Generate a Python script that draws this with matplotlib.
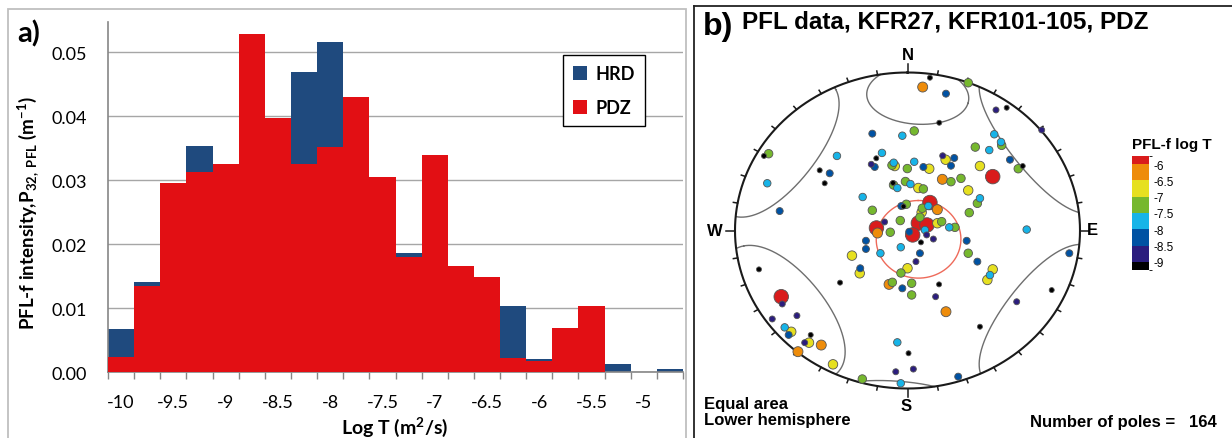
import numpy as np
import matplotlib
matplotlib.use("Agg")
import matplotlib.pyplot as plt
import matplotlib as mpl
from matplotlib.patches import Patch, Rectangle
from matplotlib.lines import Line2D
from matplotlib.colors import ListedColormap, BoundaryNorm

plt.rcParams['font.family'] = ['Lato', 'DejaVu Sans']
plt.rcParams['axes.unicode_minus'] = False
plt.rcParams['mathtext.fontset'] = 'custom'
plt.rcParams['mathtext.rm'] = 'Lato'
plt.rcParams['mathtext.bf'] = 'Lato:bold'
plt.rcParams['mathtext.it'] = 'Lato:italic'

# ---------------- panel a data ----------------
bin_centers = [-10.0, -9.75, -9.5, -9.25, -9.0, -8.75, -8.5, -8.25, -8.0, -7.75, -7.5,
               -7.25, -7.0, -6.75, -6.5, -6.25, -6.0, -5.75, -5.5, -5.25, -5.0, -4.75]
hrd = [0.0067, 0.0140, 0.0270, 0.0353, 0.0300, 0.0450, 0.0360, 0.0469, 0.0515, 0.0380, 0.0270,
       0.0186, 0.0280, 0.0120, 0.0110, 0.0103, 0.0020, 0.0040, 0.0060, 0.0012, 0.0, 0.0005]
pdz = [0.0024, 0.0135, 0.0295, 0.0312, 0.0325, 0.0528, 0.0397, 0.0325, 0.0352, 0.0430, 0.0304,
       0.0179, 0.0339, 0.0165, 0.0148, 0.0022, 0.0017, 0.0068, 0.0103, 0.0, 0.0, 0.0]
x_label_values = [-10.0, -9.5, -9.0, -8.5, -8.0, -7.5, -7.0, -6.5, -6.0, -5.5, -5.0]
x_tick_labels = ['-10', '-9.5', '-9', '-8.5', '-8', '-7.5', '-7', '-6.5', '-6', '-5.5', '-5']
y_tick_values = [0.0, 0.01, 0.02, 0.03, 0.04, 0.05]
y_tick_labels = ['0.00', '0.01', '0.02', '0.03', '0.04', '0.05']
bin_width = 0.25

# ---------------- panel b data (equal-area projected pole positions, unit radius) ----------------
pole_east = [-0.805, -0.832, -0.813, -0.741, -0.409, -0.509, -0.451, -0.480, -0.204, -0.030,
             -0.148, -0.181, -0.210, -0.190, -0.074, -0.080, -0.090, -0.001, -0.081, -0.084,
             -0.059, -0.260, -0.204, -0.036, -0.007, -0.180, -0.174, -0.133, -0.042, -0.100,
             0.088, 0.130, 0.223, 0.352, 0.513, 0.575, 0.778, 0.184, 0.039, 0.503,
             0.393, 0.474, 0.542, 0.546, 0.594, 0.642, 0.668, 0.494, 0.420, 0.204,
             0.221, 0.271, 0.252, 0.039, 0.092, 0.126, 0.202, 0.252, 0.310, 0.352,
             -0.012, 0.017, 0.063, 0.092, 0.420, 0.405, 0.358, 0.691, 0.130, 0.121,
             0.173, 0.086, 0.082, 0.072, -0.023, 0.063, 0.113, 0.030, 0.010, 0.101,
             0.173, 0.198, 0.111, 0.150, 0.078, 0.242, 0.275, -0.241, -0.241, -0.157,
             -0.039, 0.072, 0.049, 0.000, -0.038, -0.861, -0.732, -0.726, -0.784, -0.641,
             -0.712, -0.674, -0.689, -0.561, -0.596, -0.571, -0.500, -0.635, -0.432, -0.262,
             -0.039, -0.068, -0.059, 0.006, -0.391, -0.322, -0.274, -0.277, -0.107, -0.088,
             -0.030, 0.024, 0.024, 0.343, 0.352, 0.405, 0.494, 0.478, 0.463, 0.183,
             0.163, 0.223, 0.420, 0.034, 0.294, 0.836, 0.633, 0.938]
pole_north = [0.486, 0.472, 0.299, 0.123, 0.472, 0.381, 0.362, 0.299, 0.613, 0.600,
              0.491, 0.457, 0.419, 0.402, 0.408, 0.429, 0.413, 0.392, 0.288, 0.301,
              0.269, 0.212, 0.128, 0.155, 0.166, 0.016, -0.016, 0.054, 0.063, -0.011,
              0.908, 0.967, 0.866, 0.935, 0.763, 0.777, 0.636, 0.682, 0.630, 0.609,
              0.528, 0.509, 0.560, 0.539, 0.448, 0.391, 0.408, 0.341, 0.408, 0.473,
              0.448, 0.459, 0.410, 0.435, 0.402, 0.391, 0.324, 0.309, 0.330, 0.254,
              0.310, 0.294, 0.269, 0.263, 0.204, 0.172, 0.113, 0.006, 0.177, 0.155,
              0.132, 0.141, 0.115, 0.084, 0.152, 0.047, 0.035, -0.028, -0.008, 0.003,
              0.046, 0.056, -0.028, -0.054, -0.075, 0.020, 0.020, -0.065, -0.117, -0.144,
              -0.106, -0.144, -0.197, -0.239, -0.269, -0.246, -0.419, -0.465, -0.560, -0.539,
              -0.613, -0.641, -0.661, -0.661, -0.710, -0.710, -0.725, -0.767, -0.847, -0.940,
              -0.967, -0.894, -0.708, -0.777, -0.330, -0.159, -0.239, -0.271, -0.341, -0.328,
              -0.366, -0.334, -0.408, -0.065, -0.144, -0.197, -0.246, -0.282, -0.313, -0.341,
              -0.419, -0.514, -0.609, -0.877, -0.925, -0.377, -0.451, -0.144]
pole_logT = [-7.25, -9.1, -7.75, -8.25, -7.75, -9.1, -8.25, -9.1, -8.25, -7.75,
             -7.75, -9.1, -8.75, -8.25, -6.75, -7.75, -7.25, -7.25, -7.25, -9.1,
             -7.75, -7.75, -7.25, -8.25, -7.25, -5.9, -6.25, -8.75, -7.25, -7.25,
             -6.25, -9.1, -8.25, -7.25, -8.75, -9.1, -8.75, -9.1, -7.25, -7.75,
             -7.25, -7.75, -7.75, -7.25, -8.25, -7.25, -9.1, -5.9, -6.75, -8.75,
             -6.75, -8.25, -8.25, -7.75, -8.25, -6.75, -6.25, -7.25, -7.25, -6.75,
             -7.25, -7.75, -6.75, -7.25, -7.75, -7.25, -7.25, -7.75, -5.9, -7.75,
             -6.25, -7.25, -6.75, -7.25, -9.1, -5.9, -5.9, -5.9, -8.25, -7.75,
             -6.75, -7.25, -8.75, -8.75, -9.1, -7.75, -7.25, -8.25, -8.25, -7.75,
             -7.75, -8.25, -8.75, -6.75, -7.25, -9.1, -5.9, -8.75, -8.75, -8.75,
             -7.75, -6.75, -8.25, -9.1, -8.75, -6.75, -6.25, -6.25, -6.75, -7.25,
             -7.75, -8.75, -7.75, -9.1, -9.1, -6.75, -8.25, -6.75, -6.25, -7.25,
             -8.25, -7.25, -7.25, -8.25, -7.25, -8.25, -6.75, -7.75, -6.75, -9.1,
             -8.75, -6.25, -9.1, -8.75, -8.25, -9.1, -8.75, -8.25]
n_poles = 164

# small circles (cones): trend, plunge, half-angle (degrees)
cone_trend = [4, 305, 234]
cone_plunge = [14, 2, 6]
cone_half = [19, 30, 30]
red_cone = (131, 83, 20)

cbar_bounds = [-9.25, -9.0, -8.5, -8.0, -7.5, -7.0, -6.5, -6.0, -5.75]
cbar_colors = ['#000000', '#2b1d7e', '#0052a3', '#17b4e8', '#76b82e', '#e6e020', '#ee8c0a', '#d91c1c']
cbar_ticks = [-9.0, -8.5, -8.0, -7.5, -7.0, -6.5, -6.0]
cbar_ticklabels = ['-9', '-8.5', '-8', '-7.5', '-7', '-6.5', '-6']

W, H = 1232, 439
fig = plt.figure(figsize=(W / 100, H / 100), dpi=100)


def px(x, y):
    return x / W, 1 - y / H


def pxbox(x0, y0, x1, y1):
    return [x0 / W, 1 - y1 / H, (x1 - x0) / W, (y1 - y0) / H]


# ---------------- panel a ----------------
ax = fig.add_axes(pxbox(108, 23, 683, 373))
ax.bar(bin_centers, hrd, width=bin_width, color='#1f4a7e', edgecolor='none', zorder=2)
ax.bar(bin_centers, pdz, width=bin_width, color='#e20f14', edgecolor='none', zorder=3)
ax.set_xlim(bin_centers[0] - bin_width / 2, bin_centers[-1] + bin_width / 2)
ax.set_ylim(0, 0.0547)
edges = [c - bin_width / 2 for c in bin_centers] + [bin_centers[-1] + bin_width / 2]
ax.set_xticks(edges)
ax.set_xticklabels([''] * len(edges))
ax.set_xticks(x_label_values, minor=True)
ax.set_xticklabels(x_tick_labels, minor=True)
ax.tick_params(axis='x', which='major', length=5, width=1, color='#868686', direction='out')
ax.tick_params(axis='x', which='minor', length=0, pad=16, labelsize=13)
ax.set_yticks(y_tick_values)
ax.set_yticklabels(y_tick_labels)
ax.tick_params(axis='y', length=0, pad=15, labelsize=13)
ax.yaxis.grid(True, color='#a6a6a6', lw=1, zorder=0)
ax.set_axisbelow(True)
for s in ['top', 'right']:
    ax.spines[s].set_visible(False)
for s in ['left', 'bottom']:
    ax.spines[s].set_color('#868686')
    ax.spines[s].set_linewidth(1.2)

leg = ax.legend(handles=[Patch(facecolor='#1f4a7e', label='HRD'), Patch(facecolor='#e20f14', label='PDZ')],
                loc='upper left', bbox_to_anchor=((563 - 108) / 575, (373 - 56) / 350),
                frameon=True, fancybox=False, edgecolor='#000000', framealpha=1,
                prop={'weight': 'bold', 'size': 13}, handlelength=0.8, handleheight=0.8,
                handletextpad=0.45, labelspacing=0.95, borderpad=0.55, borderaxespad=0)
leg.get_frame().set_linewidth(1.0)

fig.text(*px(28, 213), 'PFL-f intensity,P$_{\\mathbf{32,\\ PFL}}$ (m$^{\\mathbf{-1}}$)', rotation=90,
         ha='center', va='center', fontsize=13.5, fontweight='bold')
fig.text(*px(395, 427), 'Log T (m$^{\\mathbf{2}}$/s)', ha='center', va='center', fontsize=14, fontweight='bold')
fig.text(*px(17, 42), 'a)', ha='left', va='baseline', fontsize=21, fontweight='bold')

fig.add_artist(Rectangle(px(8, 441), 678 / W, 431 / H, transform=fig.transFigure,
                         fill=False, edgecolor='#bfbfbf', lw=1.3))

# ---------------- panel b ----------------
fig.add_artist(Line2D([694.3 / W, 1.0], [1 - 7.3 / H, 1 - 7.3 / H], transform=fig.transFigure, color='#222222', lw=1.3))
fig.add_artist(Line2D([694.3 / W, 694.3 / W], [0, 1 - 7.3 / H], transform=fig.transFigure, color='#222222', lw=1.3))

sax = fig.add_axes(pxbox(735, 73.5, 1080, 389.5))
sax.set_xlim(-1, 1)
sax.set_ylim(-1, 1)
sax.axis('off')

th = np.linspace(0, 2 * np.pi, 721)
sax.plot(np.sin(th), np.cos(th), color='#1a1a1a', lw=1.5, clip_on=False, zorder=2)
for az in range(0, 360, 10):
    L = 0.055 if az % 90 == 0 else 0.025
    a = np.radians(az)
    sax.plot([np.sin(a), (1 + L) * np.sin(a)], [np.cos(a), (1 + L) * np.cos(a)],
             color='#1a1a1a', lw=1.1, clip_on=False, zorder=2)


def small_circle(trend, plunge, alpha, n=1441):
    t, p, a = np.radians([trend, plunge, alpha])
    axis = np.array([np.sin(t) * np.cos(p), np.cos(t) * np.cos(p), np.sin(p)])
    ref = np.array([0.0, 0.0, 1.0]) if abs(axis[2]) < 0.9 else np.array([1.0, 0.0, 0.0])
    b = np.cross(axis, ref)
    b /= np.linalg.norm(b)
    c = np.cross(axis, b)
    phi = np.linspace(0, 2 * np.pi, n)
    v = np.cos(a) * axis[:, None] + np.sin(a) * (np.cos(phi) * b[:, None] + np.sin(phi) * c[:, None])
    sign = np.where(v[2] < 0, -1.0, 1.0)
    e, nn, d = v * sign
    h = np.hypot(e, nn)
    r = np.sqrt(np.clip(1 - d, 0, None))
    x = r * e / h
    y = r * nn / h
    br = np.where(np.diff(sign) != 0)[0] + 1
    return np.insert(x, br, np.nan), np.insert(y, br, np.nan)


for tr, pl, al in zip(cone_trend, cone_plunge, cone_half):
    x, y = small_circle(tr, pl, al)
    sax.plot(x, y, color='#6e6e6e', lw=1.0, zorder=1)
x, y = small_circle(*red_cone)
sax.plot(x, y, color='#ee6a5a', lw=1.0, zorder=1)

cmap = ListedColormap(cbar_colors)
norm = BoundaryNorm(cbar_bounds, cmap.N)
logT = np.array(pole_logT)
diam = np.interp(logT, [-9.1, -8.75, -8.25, -7.75, -7.25, -6.75, -6.25, -5.9],
                 [5.0, 6.0, 7.0, 7.5, 8.5, 9.5, 10.0, 14.5])
order = np.argsort(-diam, kind='stable')
sax.scatter(np.array(pole_east)[order], np.array(pole_north)[order], s=(diam[order] * 0.72) ** 2,
            c=logT[order], cmap=cmap, norm=norm, edgecolors='#555555', linewidths=0.6, zorder=3)

bf = dict(family=['Liberation Sans', 'DejaVu Sans'], fontweight='bold')
fig.text(*px(908, 56), 'N', ha='center', va='center', fontsize=12, **bf)
fig.text(*px(906, 407), 'S', ha='center', va='center', fontsize=12, **bf)
fig.text(*px(715, 232), 'W', ha='center', va='center', fontsize=12, **bf)
fig.text(*px(1092, 231), 'E', ha='center', va='center', fontsize=12, **bf)
fig.text(*px(703, 35), 'b)', ha='left', va='baseline', fontsize=23, **bf)
fig.text(*px(742, 29), 'PFL data, KFR27, KFR101-105, PDZ', ha='left', va='baseline', fontsize=17.5, **bf)
fig.text(*px(704, 405), 'Equal area', ha='left', va='center', fontsize=12, **bf)
fig.text(*px(704, 421), 'Lower hemisphere', ha='left', va='center', fontsize=12, **bf)
fig.text(*px(1217, 423), 'Number of poles =   %d' % n_poles, ha='right', va='center', fontsize=12, **bf)
fig.text(*px(1132, 145), 'PFL-f log T', ha='left', va='center', fontsize=11, **bf)

cax = fig.add_axes(pxbox(1132, 157, 1149, 271))
cb = mpl.colorbar.ColorbarBase(cax, cmap=cmap, norm=norm, boundaries=cbar_bounds,
                               ticks=cbar_ticks, spacing='proportional')
cb.outline.set_visible(False)
cb.set_ticklabels(cbar_ticklabels)
cax.tick_params(length=0, pad=3, labelsize=8.5)
for t in cax.get_yticklabels():
    t.set_family(['Liberation Sans', 'DejaVu Sans'])

fig.savefig('out.png', dpi=100)
